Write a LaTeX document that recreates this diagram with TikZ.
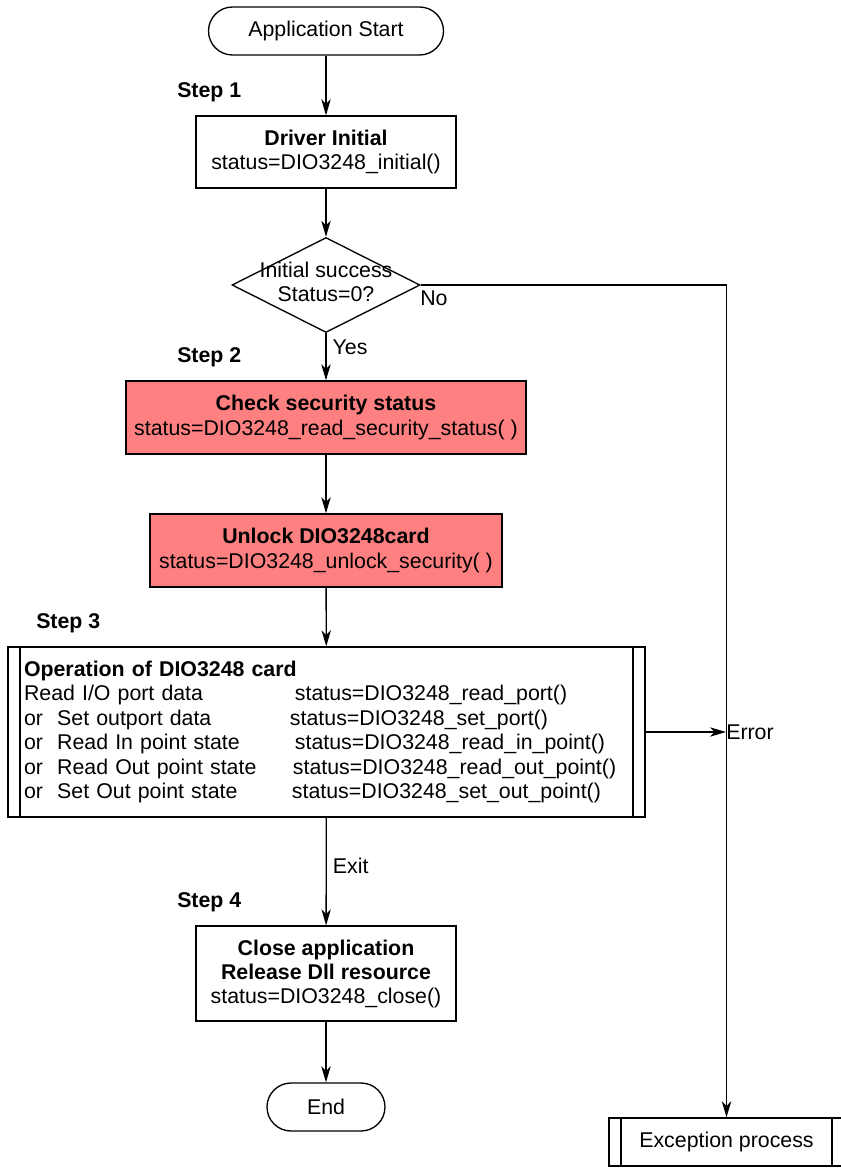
\documentclass[tikz,border=0pt]{standalone}
\usepackage{fontspec}
\setmainfont{Liberation Sans}
\usepackage{xcolor}
\usepackage{tikz}
\usetikzlibrary{shapes.geometric,arrows.meta}
\definecolor{secred}{HTML}{FF8080}
\tikzset{
  every node/.style={font=\fontsize{16}{18}\selectfont},
  flow/.style={line width=1pt,-{Stealth[length=12pt,width=7pt,inset=3.5pt]}},
  terminal/.style={draw,line width=1pt,rounded corners=18pt,minimum height=36pt,inner sep=0pt},
  process/.style={draw,line width=1pt,align=center,inner sep=0pt},
  decision/.style={draw,line width=1pt,diamond,aspect=1.98,inner sep=0pt,minimum width=141pt,minimum height=71.25pt},
  subproc/.style={draw,line width=1pt,inner sep=0pt,
    path picture={
      \draw[line width=1pt] ([xshift=9pt]path picture bounding box.north west) -- ([xshift=9pt]path picture bounding box.south west);
      \draw[line width=1pt] ([xshift=-9pt]path picture bounding box.north east) -- ([xshift=-9pt]path picture bounding box.south east);
    }},
  steplabel/.style={anchor=west,inner sep=0pt,font=\fontsize{16}{18}\selectfont\bfseries},
  flowlabel/.style={anchor=west,inner sep=0pt}
}
\begin{document}
\begin{tikzpicture}[x=0.75pt,y=-0.75pt]
\useasboundingbox (0,0) rectangle (840,1168);

\node[terminal,minimum width=176.25pt] (start) at (326,31) {Application Start};
\node[process,minimum width=195pt,minimum height=54pt] (init) at (326,152) {\textbf{Driver Initial}\\status=DIO3248\_initial()};
\node[decision] (ok) at (326,285) {\makebox[0pt]{\begin{tabular}{@{}c@{}}Initial success\\Status=0?\end{tabular}}};
\node[process,fill=secred,minimum width=300pt,minimum height=54.75pt] (sec) at (326,417.5) {\textbf{Check security status}\\[1pt]status=DIO3248\_read\_security\_status( )};
\node[process,fill=secred,minimum width=264pt,minimum height=54.75pt] (unlock) at (326,550.5) {\textbf{Unlock DIO3248card}\\[1pt]status=DIO3248\_unlock\_security( )};
\node[subproc,minimum width=477.75pt,minimum height=127.5pt,text width=453.75pt,align=left,font=\fontsize{16}{18.4}\selectfont] (op) at (326.5,732) {%
  \textbf{Operation of DIO3248 card}\\
  \makebox[203.25pt][l]{Read I/O port data}status=DIO3248\_read\_port()\\
  \makebox[199.5pt][l]{or\ \ Set outport data}status=DIO3248\_set\_port()\\
  \makebox[203.25pt][l]{or\ \ Read In point state}status=DIO3248\_read\_in\_point()\\
  \makebox[201.75pt][l]{or\ \ Read Out point state}status=DIO3248\_read\_out\_point()\\
  \makebox[201pt][l]{or\ \ Set Out point state}status=DIO3248\_set\_out\_point()};
\node[process,minimum width=195pt,minimum height=71.25pt] (close) at (326,973.5) {\textbf{Close application}\\\textbf{Release Dll resource}\\status=DIO3248\_close()};
\node[terminal,minimum width=88.5pt] (end) at (326,1107) {End};
\node[subproc,minimum width=176.25pt,minimum height=36pt] (exc) at (726.5,1142) {Exception process};
\coordinate (err) at (726,732);

\node[steplabel] (s1) at (177,92) {Step 1};
\node[steplabel] (s2) at (177,357) {Step 2};
\node[steplabel] (s3) at (36,623) {Step 3};
\node[steplabel] (s4) at (177,902) {Step 4};

\draw[flow] (start) -- (init);
\draw[flow] (init) -- (ok);
\draw[flow] (ok) -- node[flowlabel,pos=0.3,xshift=4.5pt] (yes) {Yes} (sec);
\draw[flow] (sec) -- (unlock);
\draw[flow] (unlock) -- (op);
\draw[flow] (op) -- node[flowlabel,pos=0.45,xshift=4.5pt] (exit) {Exit} (close);
\draw[flow] (close) -- (end);
\draw[flow] (ok.east) -| (exc.north);
\node[flowlabel] (no) at (420,298) {No};
\draw[flow] (op.east |- err) -- (err);
\node[flowlabel] (errlbl) at (err) {Error};
\end{tikzpicture}
\end{document}
